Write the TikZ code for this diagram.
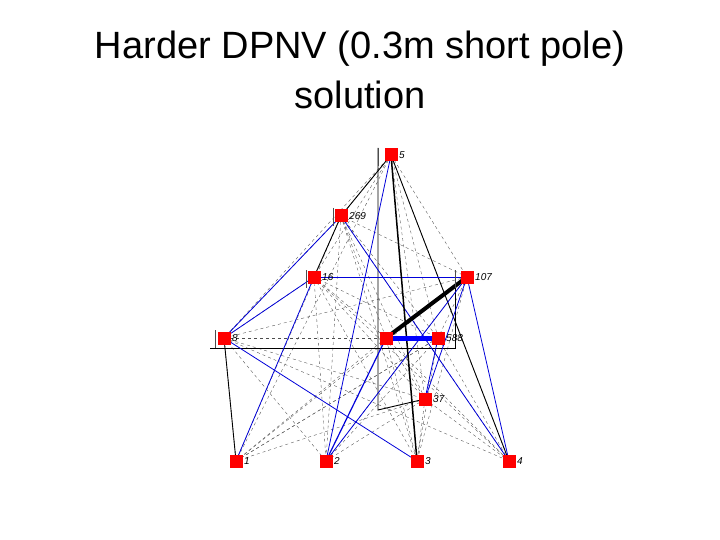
\documentclass[tikz,border=0pt]{standalone}
\usepackage{fontspec}
\setmainfont{Liberation Sans}
\begin{document}
\begin{tikzpicture}[x=1pt,y=-1pt,
  sq/.style={fill=red,minimum size=13pt,inner sep=0pt},
  lab/.style={font=\itshape\fontsize{10}{10}\selectfont,anchor=west,inner sep=1pt},
  dl/.style={dashed,black!70,line width=0.35pt},
  bl/.style={blue!85!black,line width=0.8pt},
  kl/.style={black,line width=0.9pt}]
\useasboundingbox (0,0) rectangle (720,540);
\node[font=\fontsize{38}{50}\selectfont,align=center] (t) at (360,70) {Harder DPNV (0.3m short pole)\\solution};
\coordinate (p5) at (391,155);
\coordinate (p269) at (341,216);
\coordinate (p16) at (314,277);
\coordinate (p107) at (467,277);
\coordinate (p8) at (224,338);
\coordinate (pc) at (386,338);
\coordinate (p588) at (438,338);
\coordinate (p37) at (425,399);
\coordinate (p1) at (236,461);
\coordinate (p2) at (326,461);
\coordinate (p3) at (417,461);
\coordinate (p4) at (509,461);
% dashed web
\foreach \a/\b in {5/269,5/16,5/107,5/8,5/588,5/37,5/1,5/4,5/3,269/107,269/8,269/588,269/37,269/1,269/2,269/3,269/4,269/c,
16/c,16/588,16/37,16/2,16/3,16/4,107/8,107/1,107/2,107/3,107/c,107/588,8/c,8/588,8/37,8/1,8/2,8/4,
c/1,c/3,c/4,c/37,588/1,588/2,588/3,588/4,37/1,37/2,37/3,37/4,1/588,16/8}
  \draw[dl] (p\a) -- (p\b);
% black lines
\draw[kl] (p269) -- (p16);
\draw[kl] (p5) -- (p4);
\draw[kl] (p5) -- (p269);
\draw[kl] (p8) -- (p1);
\draw[kl] (210,348) -- (455,348) -- (455,270);
\draw[kl] (378,148) -- (378,410) -- (p37);
% blue lines
\draw[bl] (p5) -- (p2);
\draw[bl,line width=1.2pt] (p2) -- (pc);
\draw[bl] (p16) -- (p107);
\draw[bl] (p8) -- (p16);
\draw[bl] (p8) -- (p3);
\draw[bl] (p16) -- (p1);
\draw[bl] (p107) -- (p37);
\draw[bl] (p588) -- (p37);
\draw[bl] (p269) -- (p4);
\draw[bl] (p107) -- (p4);
\draw[bl] (p8) -- (p269);
\draw[bl] (p2) -- (p107);
\draw[kl,line width=1.5pt] (p5) -- (p3);
\draw[kl,line width=4pt] (p107) -- (pc);
\draw[blue,line width=5pt] (pc) -- (p588);
% flags
\foreach \x/\y in {378/148,333/208,306/270,215/330,455/270}
  \draw[black!70,line width=0.6pt] (\x,\y) -- (\x,\y+18);
% nodes
\foreach \n/\l in {5/5,269/269,16/16,107/107,8/8,588/588,37/37,1/1,2/2,3/3,4/4}{
  \node[sq] (n\n) at (p\n) {};
  \node[lab] at ([xshift=7pt]p\n) {\l};
}
\node[sq] (nc) at (pc) {};
\end{tikzpicture}
\end{document}
